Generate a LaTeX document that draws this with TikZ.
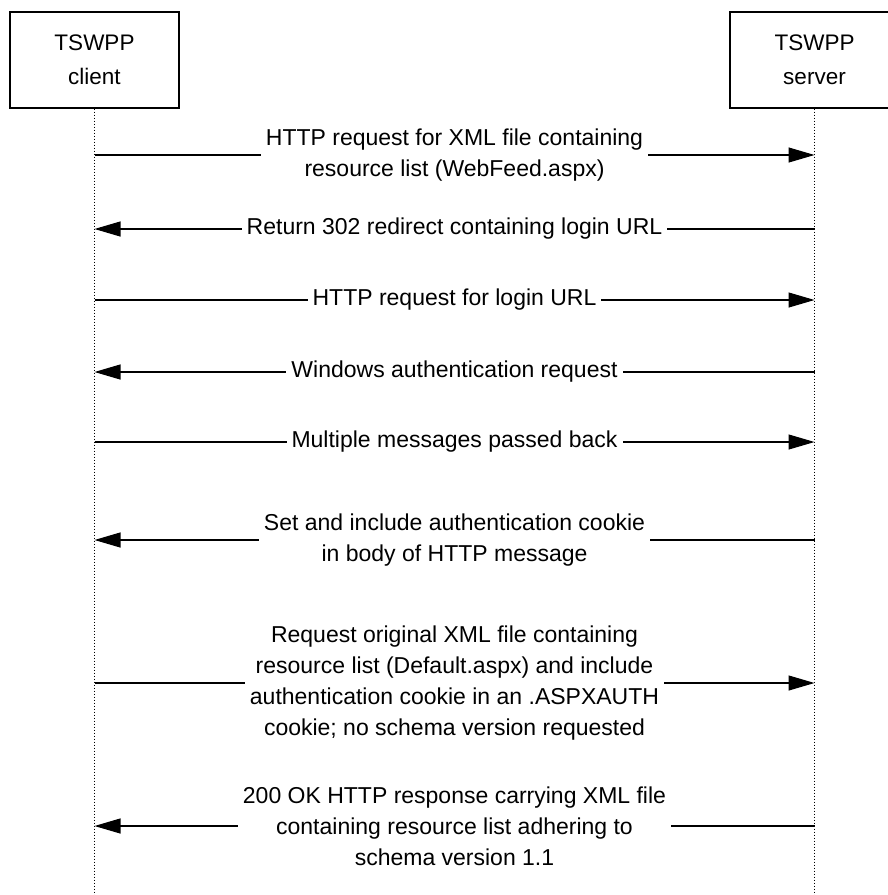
\documentclass[tikz,border=0pt]{standalone}
\usepackage{fontspec}
\setmainfont{Liberation Sans}
\usetikzlibrary{arrows.meta}

\begin{document}
\begin{tikzpicture}[x=1pt,y=-1pt,
		actor/.style={draw,line width=1.1pt,minimum width=169pt,minimum height=96pt,align=center,font=\fontsize{22.5}{34}\selectfont},
		life/.style={line width=1.1pt,dash pattern=on 1.5pt off 1.5pt},
		msg/.style={line width=1.1pt,-{Triangle[length=26pt,width=15pt]}},
		lbl/.style={fill=white,align=center,inner xsep=5pt,inner ysep=0pt,font=\fontsize{23}{31}\selectfont}]
		\useasboundingbox (0,0) rectangle (887,895);
		\node[actor] (client) at (94.5,60) {TSWPP\\client};
		\node[actor] (server) at (814.5,60) {TSWPP\\server};
		\coordinate (cend) at (client.south |- 0,895);
		\coordinate (send) at (server.south |- 0,895);
		\draw[life] (client) -- (cend);
		\draw[life] (server) -- (send);
		% messages, top to bottom
		\foreach \y/\a/\b/\txt in {
			155/client/server/{HTTP request for XML file containing\\resource list (WebFeed.aspx)},
			229/server/client/{Return 302 redirect containing login URL},
			300/client/server/{HTTP request for login URL},
			372/server/client/{Windows authentication request},
			442/client/server/{Multiple messages passed back},
			540/server/client/{Set and include authentication cookie\\in body of HTTP message},
			683/client/server/{Request original XML file containing\\resource list (Default.aspx) and include\\authentication cookie in an .ASPXAUTH\\cookie; no schema version requested},
			826/server/client/{200 OK HTTP response carrying XML file\\containing resource list adhering to\\schema version 1.1}}
			\draw[msg] (\a.south |- 0,\y) -- node[lbl] (m\y) {\txt} (\b.south |- 0,\y);
	\end{tikzpicture}
\end{document}
